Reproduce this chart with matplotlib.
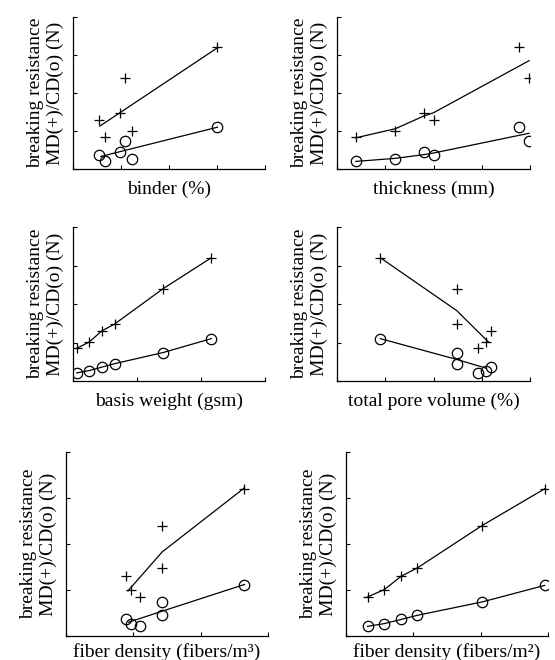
import matplotlib
matplotlib.use('Agg')
import matplotlib.pyplot as plt

plt.rcParams['font.family'] = ['Liberation Serif', 'DejaVu Serif']

# breaking resistance of the six samples (same samples in every panel)
md = [0.85, 1.01, 1.30, 1.48, 2.40, 3.20]
cd = [0.21, 0.27, 0.36, 0.45, 0.74, 1.10]

# sample position on each property axis
x_binder = [0.66, 1.22, 0.54, 0.97, 1.08, 3.01]
x_thick = [0.39, 1.21, 2.00, 1.81, 3.98, 3.78]
x_basis = [0.06, 0.25, 0.45, 0.65, 1.41, 2.16]
x_pore = [2.93, 3.08, 3.19, 2.48, 2.48, 0.90]
x_dens3 = [1.10, 0.97, 0.89, 1.43, 1.43, 2.65]
x_dens2 = [0.32, 0.57, 0.82, 1.06, 2.02, 2.95]

# fitted trend lines
fit_binder_md = ([0.56, 3.01], [1.13, 3.19])
fit_binder_cd = ([0.58, 3.01], [0.33, 1.10])
fit_thick_md = ([0.39, 1.21, 1.81, 2.00, 3.98], [0.82, 1.06, 1.40, 1.48, 2.85])
fit_thick_cd = ([0.39, 1.21, 1.81, 2.00, 3.98], [0.20, 0.28, 0.38, 0.42, 0.94])
fit_basis_md = (x_basis, md)
fit_basis_cd = (x_basis, cd)
fit_pore_md = ([0.90, 2.48, 3.15], [3.20, 1.83, 1.00])
fit_pore_cd = ([0.90, 2.48, 3.10], [1.10, 0.56, 0.33])
fit_dens3_md = ([0.92, 1.43, 2.65], [0.98, 1.83, 3.22])
fit_dens3_cd = ([0.93, 1.43, 2.65], [0.30, 0.54, 1.12])
fit_dens2_md = (x_dens2, md)
fit_dens2_cd = (x_dens2, cd)

xlabels = ['binder (%)', 'thickness (mm)', 'basis weight (gsm)',
           'total pore volume (%)', 'fiber density (fibers/m³)',
           'fiber density (fibers/m²)']

panels = [
    (x_binder, fit_binder_md, fit_binder_cd, 4),
    (x_thick, fit_thick_md, fit_thick_cd, 4),
    (x_basis, fit_basis_md, fit_basis_cd, 3),
    (x_pore, fit_pore_md, fit_pore_cd, 4),
    (x_dens3, fit_dens3_md, fit_dens3_cd, 3),
    (x_dens2, fit_dens2_md, fit_dens2_cd, 3),
]

# axes boxes in pixels: left, right, top, bottom
boxes = [(73, 265, 17, 169), (337, 530, 17, 169),
         (73, 265, 227, 381), (337, 530, 227, 381),
         (66, 268, 452, 636), (346, 548, 452, 636)]

W, H = 555, 660
fig = plt.figure(figsize=(W / 100, H / 100), dpi=100)

for i, ((xs, fmd, fcd, xmax), (l, r, t, b), lab) in enumerate(zip(panels, boxes, xlabels)):
    ax = fig.add_axes([l / W, 1 - b / H, (r - l) / W, (b - t) / H])
    ax.plot(fmd[0], fmd[1], color='black', lw=0.9)
    ax.plot(fcd[0], fcd[1], color='black', lw=0.9)
    ax.plot(xs, md, '+', color='black', ms=7, mew=0.9)
    ax.plot(xs, cd, 'o', mfc='none', mec='black', ms=7.5, mew=0.9)
    ax.set_xlim(0, xmax)
    ax.set_ylim(0, 4)
    ax.set_xticks(range(xmax + 1))
    ax.set_yticks(range(5))
    ax.set_xticklabels([])
    ax.set_yticklabels([])
    ax.tick_params(direction='in', length=3, width=0.8)
    ax.spines['top'].set_visible(False)
    ax.spines['right'].set_visible(False)
    for s in ['left', 'bottom']:
        ax.spines[s].set_linewidth(0.9)
    ax.set_xlabel(lab, fontsize=14, labelpad=5 if i < 4 else 1.5)
    ax.set_ylabel('breaking resistance\nMD(+)/CD(o) (N)', fontsize=14,
                  labelpad=3, linespacing=1.2)

plt.savefig('out.png', dpi=100)
